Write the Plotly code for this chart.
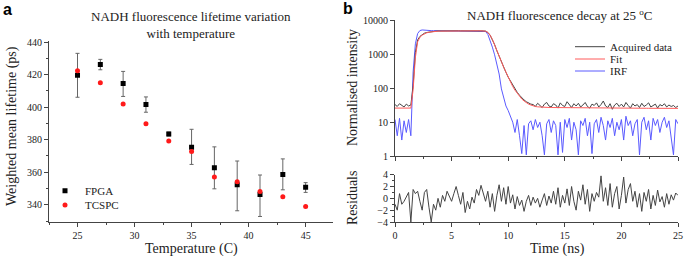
import plotly.graph_objects as go

# ---------------- Panel a data ----------------
temperature_c = [25, 27, 29, 31, 33, 35, 37, 39, 41, 43, 45]
fpga_ps = [419.6, 426.2, 414.6, 401.6, 383.5, 375.4, 362.8, 352.3, 346.3, 358.6, 350.8]
fpga_err_plus = [13.5, 3.2, 7.4, 4.7, 1.2, 11.0, 12.8, 14.6, 12.0, 9.6, 2.8]
fpga_err_minus = [13.5, 3.2, 8.0, 4.7, 1.2, 10.6, 13.0, 16.0, 13.5, 9.4, 3.2]
tcspc_ps = [422.4, 415.0, 402.0, 389.8, 379.2, 372.8, 357.0, 354.2, 348.2, 345.0, 339.0]

# ---------------- Panel b data ----------------
acquired = [
    33, 29, 35, 31, 28, 34, 30, 32,
    120, 1100, 2600, 3300, 3800, 4100, 4300, 4450, 4550, 4600, 4700, 4750,
    4780, 4820, 4800, 4850, 4790, 4810, 4830, 4800, 4820, 4790,
    4810, 4800, 4830, 4820, 4800, 4790, 4810, 4800, 4820, 4780,
    4700, 4300, 3600, 2700, 1900, 1250, 850, 580, 400, 290, 210, 160, 120, 92, 75,
    62, 52, 45, 40, 36, 34,
    33, 29, 36, 31, 27, 34, 38, 30, 28, 35,
    32, 26, 37, 31, 29, 40, 33, 27, 35, 30,
    36, 28, 32, 38, 29, 26, 34, 31, 37, 28,
    33, 42, 30, 27, 35, 24, 32, 36, 29, 34,
    28, 38, 31, 26, 35, 30, 33, 27, 36, 29,
    32, 37, 28, 31, 34, 26, 33, 30, 35, 28,
    32, 29, 31, 27, 30,
]
fit = [
    26, 26, 26, 26, 26, 26, 26, 26,
    90, 800, 2300, 3100, 3600, 3950, 4200, 4380, 4500, 4580, 4650, 4700,
    4720, 4740, 4750, 4760, 4770, 4775, 4780, 4785, 4790, 4790,
    4795, 4800, 4800, 4800, 4805, 4805, 4810, 4810, 4810, 4800,
    4700, 4350, 3600, 2700, 1900, 1300, 880, 600, 410, 290, 205, 150, 112, 87, 70,
    57, 48, 42, 37, 34, 32,
    30, 29, 28.3, 27.8, 27.4,
    27.2, 27.1, 27.1, 27.0, 27.0, 26.9, 26.9, 26.8, 26.8, 26.7,
    26.7, 26.6, 26.6, 26.5, 26.5, 26.5, 26.4, 26.4, 26.4, 26.3,
    26.3, 26.3, 26.2, 26.2, 26.2, 26.1, 26.1, 26.1, 26.0, 26.0,
    26.0, 26.0, 25.9, 25.9, 25.9, 25.9, 25.8, 25.8, 25.8, 25.8,
    25.8, 25.7, 25.7, 25.7, 25.7, 25.7, 25.6, 25.6, 25.6, 25.6,
    25.6, 25.6, 25.5, 25.5, 25.5, 25.5, 25.5, 25.5, 25.5, 25.5,
]
irf = [
    12, 4, 13, 3, 11, 5, 12, 4,
    300, 2000, 4000, 4900, 5100, 5000, 4950, 4900, 4880, 4870, 4860, 4850,
    4840, 4860, 4850, 4870, 4840, 4850, 4860, 4850, 4840, 4860,
    4850, 4870, 4850, 4840, 4860, 4850, 4840, 4820, 4800, 4750,
    4600, 3800, 2600, 1600, 950, 520, 260, 95, 55, 30, 22, 14,
    10, 5, 12, 4, 1.2, 8, 1.1, 9, 11, 6,
    12, 7, 10, 4, 1.1, 9, 12, 5, 11, 8,
    1.1, 10, 1.3, 12, 7, 13, 3, 10, 6, 1.1,
    11, 8, 13, 4, 10, 1.2, 9, 12, 5, 14,
    8, 3, 11, 7, 13, 4, 10, 6, 12, 3,
    15, 8, 11, 4, 9, 12, 1.1, 10, 14, 6,
    11, 3, 13, 8, 12, 5, 10, 14, 7, 11,
    3, 1.1, 12, 9,
]
residuals = [
    -1.0, -2.0, 0.8, -1.0, -0.5, 0.2, 1.0, -4.0, 1.5, 0.8,
    1.2, -0.5, -2.0, 1.0, 1.5, -1.5, -4.0, -1.0, -2.0, 0.0,
    -1.5, 0.5, -0.5, 1.2, 0.3, -0.5, 0.8, 2.0, 0.5, -1.0,
    1.0, -2.4, -0.5, -1.8, 0.2, -0.8, 1.5, 0.5, 2.2, 1.0,
    -0.5, 1.2, -1.5, 0.8, -2.2, 0.5, 2.3, -0.5, 1.8, -1.0,
    2.0, -0.8, 0.6, -1.8, 0.3, -1.2, -0.3, -2.2, -0.5, 0.5,
    -1.2, 0.2, -0.8, 0.0, -1.5, -0.3, 0.8, -1.2, 0.4, -0.8,
    1.2, -1.0, 1.8, -1.5, 0.5, -0.8, 1.6, -1.2, 2.0, -0.5,
    -2.0, 1.2, -0.3, 2.3, -1.0, 1.5, -2.2, 0.8, -0.5, 1.0,
    0.2, 3.8, -0.5, 1.8, -1.2, 2.5, -1.5, 0.8, 2.0, -1.8,
    0.5, 3.6, -0.8, 1.5, 2.5, -0.5, 1.2, -1.5, 0.8, -2.2,
    1.0, -0.5, 1.5, -1.8, 0.5, -1.2, 1.4, -0.6, 0.3, -1.5,
    0.8, -1.0, 0.6, -0.3, 0.9, 0.5,
]
time_ns = [round(0.2 * i, 1) for i in range(126)]
assert len(acquired) == len(fit) == len(irf) == len(residuals) == len(time_ns), (
    len(acquired), len(fit), len(irf), len(residuals))

SERIF = "Liberation Serif"
SANS = "Liberation Sans"
W, H = 685, 256
AX = "#444444"
TXT = "#222222"

def px(x):
    return x / W

def py(y):
    return 1 - y / H

fig = go.Figure()

# Panel a
fig.add_trace(go.Scatter(
    x=temperature_c, y=fpga_ps, mode="markers", name="FPGA",
    marker=dict(symbol="square", size=5, color="black"),
    error_y=dict(type="data", array=fpga_err_plus, arrayminus=fpga_err_minus,
                 color="#666666", thickness=1, width=2),
    xaxis="x", yaxis="y", legend="legend"))
fig.add_trace(go.Scatter(
    x=temperature_c, y=tcspc_ps, mode="markers", name="TCSPC",
    marker=dict(symbol="circle", size=5, color="#ff1a1a"),
    xaxis="x", yaxis="y", legend="legend2"))

# Panel b top
fig.add_trace(go.Scatter(x=time_ns, y=irf, mode="lines", name="IRF",
                         line=dict(color="#5a5aff", width=1),
                         xaxis="x2", yaxis="y2", legend="legend5"))
fig.add_trace(go.Scatter(x=time_ns, y=acquired, mode="lines", name="Acquired data",
                         line=dict(color="#444444", width=1),
                         xaxis="x2", yaxis="y2", legend="legend3"))
fig.add_trace(go.Scatter(x=time_ns, y=fit, mode="lines", name="Fit",
                         line=dict(color="#ff5a5a", width=1),
                         xaxis="x2", yaxis="y2", legend="legend4"))
# Panel b bottom
fig.add_trace(go.Scatter(x=time_ns, y=residuals, mode="lines", name="Residuals",
                         line=dict(color="#444444", width=1), showlegend=False,
                         xaxis="x3", yaxis="y3"))

tickfont = dict(family=SERIF, size=10, color=TXT)
common = dict(showline=True, linecolor=AX, linewidth=1, ticks="outside", ticklen=4,
              tickcolor=AX, showgrid=False, zeroline=False, tickfont=tickfont,
              automargin=False)

def minor(d):
    return dict(ticks="outside", ticklen=2, tickcolor=AX, dtick=d)

fig.update_layout(
    width=W, height=H,
    margin=dict(l=0, r=0, t=0, b=0, pad=0, autoexpand=False),
    paper_bgcolor="white", plot_bgcolor="white",
    xaxis=dict(domain=[px(49), px(333)], range=[22.5, 47.4], dtick=5, tick0=25,
               anchor="y", minor=minor(2.5), **common),
    yaxis=dict(domain=[py(222), py(40.5)], range=[329.4, 441], dtick=20, tick0=340,
               anchor="x", minor=minor(10), **common),
    xaxis2=dict(domain=[px(395), px(678)], range=[0, 25], dtick=5, anchor="y2",
                showticklabels=False, minor=minor(2.5), **common),
    yaxis2=dict(domain=[py(156.3), py(20)], type="log", range=[0, 4], anchor="x2",
                tickvals=[1, 10, 100, 1000, 10000],
                ticktext=["1", "10", "100", "1000", "10000"], **common),
    xaxis3=dict(domain=[px(395), px(678)], range=[0, 25], dtick=5, anchor="y3",
                minor=minor(2.5), **common),
    yaxis3=dict(domain=[py(222), py(174.7)], range=[-4, 4], dtick=2, anchor="x3",
                minor=minor(1), **common),
)

legfont = dict(family=SERIF, size=11, color=TXT)
def leg(xtext, ycenter):
    return dict(x=px(xtext - 42), y=py(ycenter), xanchor="left", yanchor="middle",
                bgcolor="rgba(0,0,0,0)", borderwidth=0, font=legfont,
                itemwidth=30, tracegroupgap=0)

fig.update_layout(
    legend=leg(87, 190.7), legend2=leg(87, 205),
    legend3=leg(612, 46.7), legend4=leg(612, 59), legend5=leg(612, 71),
)

annos = [
    dict(text="<b>a</b>", x=px(1), y=py(9), xanchor="left", yanchor="middle",
         font=dict(family=SANS, size=16, color="black")),
    dict(text="<b>b</b>", x=px(341), y=py(8), xanchor="left", yanchor="middle",
         font=dict(family=SANS, size=16, color="black")),
    dict(text="NADH fluorescence lifetime variation<br>with temperature",
         x=px(191), y=py(24.5), xanchor="center", yanchor="middle",
         font=dict(family=SERIF, size=13, color=TXT)),
    dict(text="NADH fluorescence decay at 25 <sup>o</sup>C",
         x=px(559), y=py(15), xanchor="center", yanchor="middle",
         font=dict(family=SERIF, size=13, color=TXT)),
    dict(text="Weighted mean lifetime (ps)", x=px(12), y=py(126), textangle=-90,
         xanchor="center", yanchor="middle", font=dict(family=SERIF, size=14, color=TXT)),
    dict(text="Temperature (C)", x=px(191), y=py(248.5), xanchor="center", yanchor="middle",
         font=dict(family=SERIF, size=14, color=TXT)),
    dict(text="Normalised intensity", x=px(352), y=py(88), textangle=-90,
         xanchor="center", yanchor="middle", font=dict(family=SERIF, size=14, color=TXT)),
    dict(text="Residuals", x=px(352), y=py(198), textangle=-90,
         xanchor="center", yanchor="middle", font=dict(family=SERIF, size=14, color=TXT)),
    dict(text="Time (ns)", x=px(557), y=py(248.5), xanchor="center", yanchor="middle",
         font=dict(family=SERIF, size=14, color=TXT)),
]
for a in annos:
    a.update(xref="paper", yref="paper", showarrow=False)
fig.update_layout(annotations=annos)

fig.write_html("out.html", config={"displayModeBar": False},
               post_script="document.body.style.margin='0';")
